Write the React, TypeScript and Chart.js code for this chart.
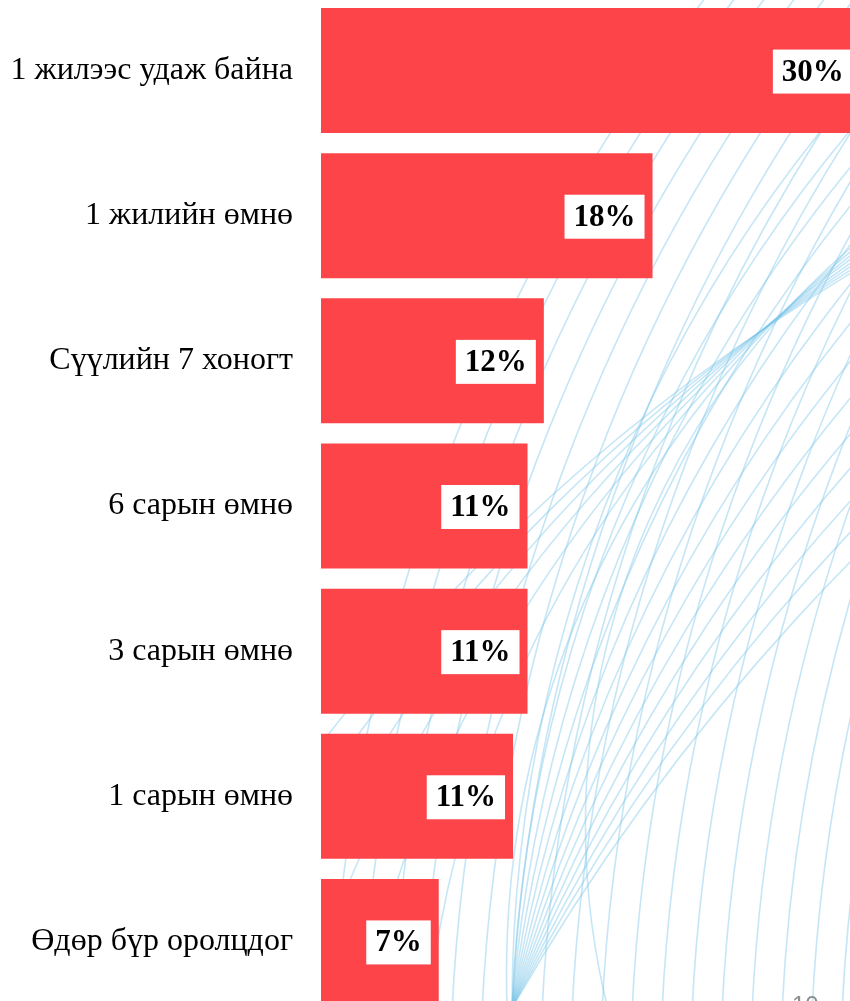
import React, { useEffect, useRef } from "react";
import { Chart, registerables } from "chart.js";

Chart.register(...registerables);

const categories: string[] = [
  "1 жилээс удаж байна",
  "1 жилийн өмнө",
  "Сүүлийн 7 хоногт",
  "6 сарын өмнө",
  "3 сарын өмнө",
  "1 сарын өмнө",
  "Өдөр бүр оролцдог",
];

const shares: number[] = [29.8, 18.3, 12.3, 11.4, 11.4, 10.6, 6.5];

const axisMax = 29.2;
const pageNumber = "10";

const BAR_COLOR = "#FC4449";
const LINE_COLOR = "rgba(120, 195, 232, 0.42)";

const backgroundPlugin = {
  id: "bgLines",
  beforeDatasetsDraw(chart: any) {
    const ctx = chart.ctx as CanvasRenderingContext2D;
    const left = chart.chartArea.left;
    ctx.save();
    ctx.beginPath();
    ctx.rect(left, 0, chart.width - left, chart.height);
    ctx.clip();
    ctx.strokeStyle = LINE_COLOR;
    ctx.lineWidth = 1.6;
    // family A: slanted near-vertical arcs
    for (let k = 0; k < 26; k++) {
      const xv = 330 + k * 30;
      const R = 1800;
      ctx.beginPath();
      ctx.arc(xv + R, 1100, R, Math.PI, Math.PI + 0.72, false);
      ctx.stroke();
    }
    // family B: bundle fanning out from the lower middle
    const sx = 512, sy = 1010;
    for (let k = 0; k < 14; k++) {
      const t = k * 0.04;
      const R = 1400 + k * 60;
      const cx = sx + R * Math.cos(t);
      const cy = sy + R * Math.sin(t);
      ctx.beginPath();
      ctx.arc(cx, cy, R, Math.PI + t, Math.PI + t + 0.9, false);
      ctx.stroke();
    }
    // family C: arcs sweeping towards upper right
    for (let k = 0; k < 8; k++) {
      const R = 760 + k * 170;
      const ang = 0.92 + k * 0.02;
      const px = 885 + k * 3;
      const py = 222 + k * 3;
      ctx.beginPath();
      ctx.arc(px + R * Math.cos(ang), py + R * Math.sin(ang), R, Math.PI * 0.75, Math.PI * 1.5);
      ctx.stroke();
    }
    ctx.restore();
  },
  afterDraw(chart: any) {
    const ctx = chart.ctx as CanvasRenderingContext2D;
    ctx.save();
    ctx.fillStyle = "#8c8c8c";
    ctx.font = "24px 'Liberation Sans', Arial, sans-serif";
    ctx.textBaseline = "top";
    ctx.textAlign = "left";
    ctx.fillText(pageNumber, 792, 996);
    ctx.restore();
  },
};

const valueLabelPlugin = {
  id: "valueLabels",
  afterDatasetsDraw(chart: any) {
    const ctx = chart.ctx as CanvasRenderingContext2D;
    const meta = chart.getDatasetMeta(0);
    const data = chart.data.datasets[0].data as number[];
    ctx.save();
    ctx.font = "bold 31px 'Liberation Serif', 'Times New Roman', serif";
    ctx.textBaseline = "middle";
    ctx.textAlign = "left";
    meta.data.forEach((bar: any, i: number) => {
      const text = Math.round(data[i]) + "%";
      const w = ctx.measureText(text).width;
      const boxRight = bar.x - 8;
      const boxLeft = boxRight - w - 18;
      const boxH = 44;
      ctx.fillStyle = "#ffffff";
      ctx.fillRect(boxLeft, bar.y - boxH / 2 + 1, boxRight - boxLeft, boxH);
      ctx.fillStyle = "#000000";
      ctx.fillText(text, boxLeft + 9, bar.y + 2);
    });
    ctx.restore();
  },
};

export default function App() {
  const canvasRef = useRef<HTMLCanvasElement | null>(null);

  useEffect(() => {
    if (!canvasRef.current) return;
    const chart = new Chart(canvasRef.current, {
      type: "bar",
      data: {
        labels: categories,
        datasets: [
          {
            data: shares,
            backgroundColor: BAR_COLOR,
            borderWidth: 0,
            barPercentage: 1,
            categoryPercentage: 0.861,
          },
        ],
      },
      options: {
        indexAxis: "y",
        responsive: false,
        animation: false,
        layout: { padding: 0 },
        plugins: {
          legend: { display: false },
          tooltip: { enabled: false },
        },
        scales: {
          x: {
            display: false,
            min: 0,
            max: axisMax,
          },
          y: {
            grid: { display: false, drawTicks: false },
            border: { display: false },
            ticks: {
              color: "#000000",
              padding: 28,
              font: { family: "'Liberation Serif', 'Times New Roman', serif", size: 32 },
            },
            afterFit(scale: any) {
              scale.width = 321;
              scale.paddingTop = 0;
              scale.paddingBottom = 0;
            },
          },
        },
      },
      plugins: [backgroundPlugin, valueLabelPlugin],
    });
    return () => chart.destroy();
  }, []);

  return (
    <div
      style={{
        position: "absolute",
        left: 0,
        top: 0,
        width: 850,
        height: 1001,
        overflow: "hidden",
        background: "#ffffff",
      }}
    >
      <canvas
        ref={canvasRef}
        width={850}
        height={1016}
        style={{ position: "absolute", left: 0, top: -2, width: 850, height: 1016 }}
      />
    </div>
  );
}
